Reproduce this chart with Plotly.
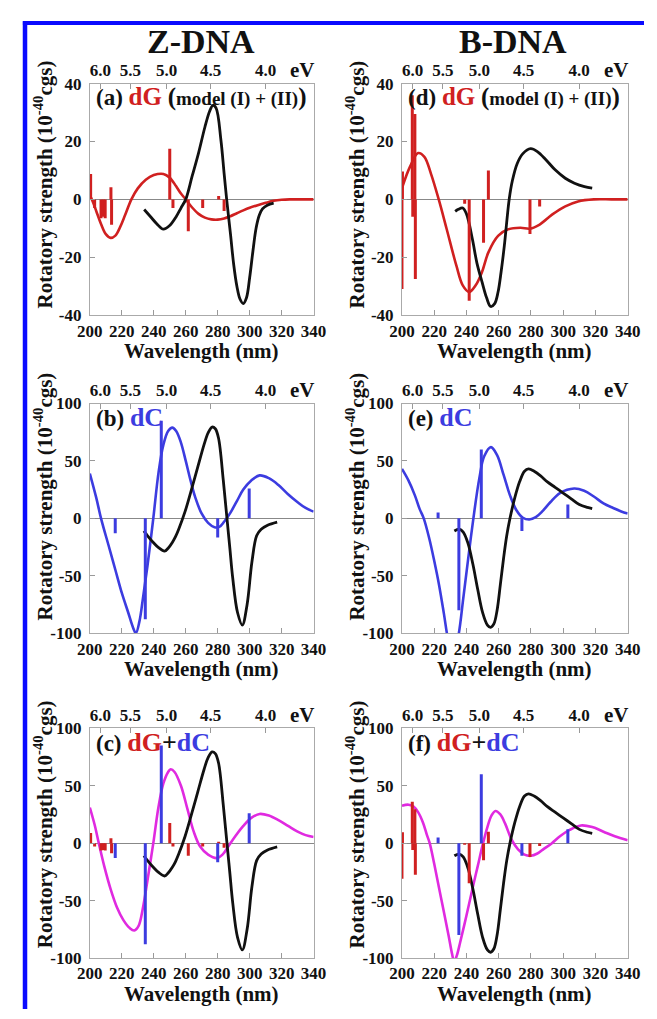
import plotly.graph_objects as go

W, H = 657, 1019

# ---------------- data ----------------
# experimental CD (black), Z-DNA, panel (a) scale
za_exp_wl = [234, 238, 242, 246, 250, 254, 257, 260, 264, 268, 272, 275, 277, 279, 282, 284, 285.6, 288, 290,
             292, 294, 296, 298, 300, 302, 304, 306, 308, 311, 315]
za_exp_cd = [-3.5, -6, -8.5, -10.3, -9, -6, -3, 0, 8, 16, 25, 30.5, 32.5, 31.5, 20.5, 9, 0, -12, -22.5,
             -30, -34.5, -36, -34, -27, -18, -10, -5.5, -3.3, -2, -1.3]
# experimental CD (black), Z-DNA, panels (b),(c)
z_exp_wl = [233.8, 236, 239.7, 243, 246.7, 249, 251.6, 253.6, 255.6, 259.6, 263.5, 267.5, 271.5, 274, 276.5,
            278.5, 280.5, 283.5, 285.8, 287.6, 289.4, 292.4, 295.4, 298.4, 301.4, 304.4, 307.2, 311.2, 317.2]
z_exp_cd = [-11, -15, -21, -25.5, -28.6, -26, -21, -16, -9.5, 6, 24.6, 44.5, 64.4, 74.5, 79.5,
            78, 70, 33, 0, -26, -52, -82, -93, -75, -38, -15, -9.5, -6, -3.3]
# experimental CD (black), B-DNA, panel (d)
bd_exp_wl = [233, 235, 237.7, 240, 243.7, 246.5, 249.7, 252.5, 255, 257.5, 259.6, 261.5, 263.5, 266.5, 268.5,
             271.5, 275, 279.8, 284, 289.4, 295, 301.3, 307, 313.2, 318]
bd_exp_cd = [-4.1, -3.4, -3, -5, -13.8, -22, -28.6, -34, -37, -36, -32, -25, -16, 0, 6.5,
             12.4, 15.8, 17.5, 16.5, 13.6, 10.2, 7.3, 5.6, 4.4, 3.9]
# experimental CD (black), B-DNA, panels (e),(f)
b_exp_wl = [232.5, 235.5, 238, 241, 244, 247, 250, 253, 255, 257, 259, 261, 263, 265, 267, 270, 273, 276,
            278.5, 282, 286, 290, 295, 300, 305, 310, 315, 318]
b_exp_cd = [-11, -9.5, -12, -22, -40, -62, -82, -93, -95, -92, -80, -58, -35, -15, 0, 18, 32, 41,
            43, 41, 37, 32, 27, 22, 17, 12, 9.5, 8.5]

# calculated spectra
z_dG_wl = [200, 202, 204, 207, 210, 213, 216, 219, 222, 226, 230, 235, 240, 246, 250, 254, 257, 260, 264,
           268, 272, 276, 280, 284, 288, 292, 296, 300, 305, 310, 315, 320, 325, 330, 335, 340]
z_dG_cd = [1.5, -1, -4, -8.5, -12, -13.3, -12.5, -9.5, -5.5, 0, 3.8, 6.8, 8.4, 8.8, 7.5, 4.5, 2, 0, -2.8,
           -5, -6.3, -6.9, -7, -6.6, -5.8, -4.8, -3.8, -2.9, -2, -1.2, -0.5, -0.15, 0, 0, 0, 0]
b_dG_wl = [200, 205, 210, 213.9, 217.9, 222.8, 227.8, 233.8, 237.7, 241.7, 245.7, 249.7, 253.6, 259.6, 265.5,
           273.4, 279.4, 285.4, 293.3, 301.3, 309.2, 319, 330, 340]
b_dG_cd = [3.9, 11.3, 16, 14.7, 9, 0, -10.4, -23, -29.7, -32, -29.7, -25, -18.3, -12.6, -10.4,
           -9.8, -10.1, -8.7, -5.2, -2.4, -0.7, 0, 0, 0]
z_dC_wl = [200, 204, 207, 212, 216, 220, 224, 227, 228.8, 231, 233, 236, 239.7, 243, 246, 249, 251.6, 254, 257,
           260, 263, 266, 270, 274, 278, 281, 284, 288, 292, 296, 301, 306.2, 312, 318, 324, 330, 335, 340]
z_dC_cd = [39, 18, 0, -25, -45, -65, -82, -95, -100, -90, -72, -42, 0, 40, 64, 76, 79, 76, 66,
           50, 33, 18, 4, -4, -7.8, -7.5, -3, 5, 15, 25, 33, 37.4, 35, 29, 21, 14, 9, 5.8]
b_dC_wl = [200, 204, 208, 211, 213.5, 217, 220, 223, 226, 228.5, 231, 233, 235.3, 238, 241, 244.3, 248, 251,
           255.2, 259, 263, 267, 271, 275, 279, 283, 287, 292, 298, 306.8, 313, 319, 325, 331, 336, 340]
b_dC_cd = [43, 33, 20, 8, 0, -18, -37, -58, -83, -105, -118, -115, -100, -70, -36, 0, 35, 54,
           62, 55, 38, 20, 7, 0.5, -1, 1, 6, 14, 22, 26, 24, 19, 13, 9, 6, 4.3]
z_sum_wl = [200, 203, 205.6, 209, 213, 217, 221, 225, 227.8, 230.5, 233, 236, 239.7, 243, 246, 249, 250.6, 253,
            257, 261, 265, 269, 274, 279.5, 283, 287, 291, 296, 301, 306.2, 312, 318, 324, 330, 335, 340]
z_sum_cd = [31, 16, 0, -20, -40, -56, -67, -74, -76, -72, -58, -33, 0, 32, 52, 62, 64.4, 62,
            50, 30, 10, -3, -10, -13, -10, -2, 6, 15, 22, 25.4, 24, 20, 15, 10, 7, 5.4]
b_sum_wl = [200, 204, 207, 210, 213, 215.5, 217.2, 220, 223, 226, 229, 231, 232.4, 234, 236, 240, 244, 247,
            250.3, 253, 255.5, 258, 261, 264, 268, 272, 276, 280, 284, 288, 293, 298, 304, 311, 318, 325, 332, 340]
b_sum_cd = [32.5, 33.5, 32, 27, 18, 7, 0, -18, -39, -60, -81, -96, -103, -98, -87, -63, -38, -20,
            0, 14, 24, 28, 25, 17, 3, -5.5, -10, -11, -9, -5, 0, 6, 11.5, 15.4, 14, 10, 6, 2.6]

# rotatory strengths (sticks)
z_dG_st_wl = [200.5, 203, 207, 208.4, 209.6, 213.2, 213.6, 250, 252, 261.6, 270.6, 280.6, 284]
z_dG_st_R = [8.8, -3, -6.5, -6, -6.5, 4.2, -8.8, 17.5, -3, -11, -3, 1.2, -4]
b_dG_st_wl = [200.0, 200.3, 206.4, 206.7, 208.0, 208.3, 238.9, 241.7, 250.6, 253.6, 279.4, 285.4]
b_dG_st_R = [-31, 9.6, 36, -6, 29.5, -27.5, -1.5, -35, -15, 10, -12, -2.5]
z_dC_st_wl = [215.9, 234.7, 244.7, 280.0, 299.7]
z_dC_st_R = [-13, -88, 85, -16.6, 26]
b_dC_st_wl = [222.4, 235.3, 249.2, 274.4, 302.9]
b_dC_st_R = [5, -80, 60, -11, 12]

ev_ticks = [6.0, 5.5, 5.0, 4.5, 4.0]
ev_text = ["6.0", "5.5", "5.0", "4.5", "4.0"]
x_ticks = [200, 220, 240, 260, 280, 300, 320, 340]

RED = "#d02020"
BLUE = "#3c3ce0"
MAG = "#e02ae0"
BLK = "#111111"
FONT = "Liberation Serif"


def sticks(wl, r):
    xs, ys = [], []
    for w, v in zip(wl, r):
        xs += [w, w, None]
        ys += [0, v, None]
    return xs, ys


fig = go.Figure()

# key, axis index, x px range, y px range, y range, y ticks, y-title vertical shift
panels = [
    ("a", 1, (80, 313), (76, 312), (-40, 40), [-40, -20, 0, 20, 40], -15),
    ("d", 2, (405, 640), (76, 312), (-40, 40), [-40, -20, 0, 20, 40], -15),
    ("b", 3, (80, 313), (402, 636), (-100, 100), [-100, -50, 0, 50, 100], -22),
    ("e", 4, (405, 640), (402, 636), (-100, 100), [-100, -50, 0, 50, 100], -22),
    ("c", 5, (80, 313), (733, 967), (-100, 100), [-100, -50, 0, 50, 100], -19),
    ("f", 6, (405, 640), (733, 967), (-100, 100), [-100, -50, 0, 50, 100], -19),
]

content = {
    "a": dict(curves=[(z_dG_wl, z_dG_cd, RED)], exp=(za_exp_wl, za_exp_cd),
              sticks=[(z_dG_st_wl, z_dG_st_R, RED)]),
    "d": dict(curves=[(b_dG_wl, b_dG_cd, RED)], exp=(bd_exp_wl, bd_exp_cd),
              sticks=[(b_dG_st_wl, b_dG_st_R, RED)]),
    "b": dict(curves=[(z_dC_wl, z_dC_cd, BLUE)], exp=(z_exp_wl, z_exp_cd),
              sticks=[(z_dC_st_wl, z_dC_st_R, BLUE)]),
    "e": dict(curves=[(b_dC_wl, b_dC_cd, BLUE)], exp=(b_exp_wl, b_exp_cd),
              sticks=[(b_dC_st_wl, b_dC_st_R, BLUE)]),
    "c": dict(curves=[(z_sum_wl, z_sum_cd, MAG)], exp=(z_exp_wl, z_exp_cd),
              sticks=[(z_dG_st_wl, z_dG_st_R, RED), (z_dC_st_wl, z_dC_st_R, BLUE)]),
    "f": dict(curves=[(b_sum_wl, b_sum_cd, MAG)], exp=(b_exp_wl, b_exp_cd),
              sticks=[(b_dG_st_wl, b_dG_st_R, RED), (b_dC_st_wl, b_dC_st_R, BLUE)]),
}

ann = []
layout_axes = {}
for key, n, (x0, x1), (y0, y1), yr, ytv, yshift in panels:
    xa = "x" if n == 1 else f"x{n}"
    ya = "y" if n == 1 else f"y{n}"
    xt = f"x{n + 6}"
    c = content[key]
    for wl, cd, col in c["curves"]:
        fig.add_trace(go.Scatter(x=wl, y=cd, mode="lines", line=dict(color=col, width=2.6, shape="spline"),
                                 xaxis=xa, yaxis=ya, showlegend=False))
    ew, ec = c["exp"]
    fig.add_trace(go.Scatter(x=ew, y=ec, mode="lines", line=dict(color=BLK, width=2.8, shape="spline"),
                             xaxis=xa, yaxis=ya, showlegend=False))
    for wl, r, col in c["sticks"]:
        sx, sy = sticks(wl, r)
        fig.add_trace(go.Scatter(x=sx, y=sy, mode="lines", line=dict(color=col, width=3),
                                 xaxis=xa, yaxis=ya, showlegend=False, connectgaps=False))
    # placeholder trace so the top (eV) axis is drawn
    fig.add_trace(go.Scatter(x=[None], y=[None], xaxis=xt, yaxis=ya, showlegend=False, hoverinfo="skip"))

    xdom = [x0 / W, x1 / W]
    ydom = [1 - y1 / H, 1 - y0 / H]
    xname = "xaxis" if n == 1 else f"xaxis{n}"
    yname = "yaxis" if n == 1 else f"yaxis{n}"
    layout_axes[xname] = dict(domain=xdom, range=[200, 340], anchor=ya, tickvals=x_ticks,
                              ticks="inside", ticklen=5, tickcolor="#999", showline=True, linecolor="#aaa",
                              linewidth=1, mirror=True, showgrid=False, zeroline=False,
                              tickfont=dict(family=FONT, size=17, color="#111", weight="bold"))
    layout_axes[yname] = dict(domain=ydom, range=list(yr), anchor=xa, tickvals=ytv,
                              ticktext=[str(v) for v in ytv], ticks="inside", ticklen=5, tickcolor="#999",
                              showline=True, linecolor="#aaa", linewidth=1, mirror=True, showgrid=False,
                              zeroline=True, zerolinecolor="#888", zerolinewidth=1.4, ticklabelstandoff=4,
                              tickfont=dict(family=FONT, size=17, color="#111", weight="bold"))
    layout_axes[f"xaxis{n + 6}"] = dict(overlaying=xa, side="top", anchor=ya, range=[200, 340],
                                        tickvals=[1239.84 / e for e in ev_ticks], ticktext=ev_text,
                                        ticks="inside", ticklen=5, tickcolor="#999", showline=False,
                                        showgrid=False, zeroline=False, ticklabelstandoff=3,
                                        tickfont=dict(family=FONT, size=17, color="#111", weight="bold"))

    # eV label
    ann.append(dict(x=(x1 - 12) / W, y=1 - (y0 - 14) / H, xref="paper", yref="paper", text="<b>eV</b>",
                    showarrow=False, xanchor="center", yanchor="middle",
                    font=dict(family=FONT, size=21, color="#111")))
    # x title
    ann.append(dict(x=(x0 + x1) / 2 / W, y=1 - (y1 + 37) / H, xref="paper", yref="paper",
                    text="<b>Wavelength (nm)</b>", showarrow=False, xanchor="center", yanchor="middle",
                    font=dict(family=FONT, size=21, color="#111")))
    # y title
    ann.append(dict(x=(x0 - 48) / W, y=1 - ((y0 + y1) / 2 + yshift) / H, xref="paper", yref="paper",
                    text="<b>Rotatory strength (10<sup>-40</sup>cgs)</b>", showarrow=False, textangle=-90,
                    xanchor="center", yanchor="middle", font=dict(family=FONT, size=21, color="#111")))

    # panel label
    if key in ("a", "d"):
        txt = (f"<b>({key}) <span style='color:{RED};font-size:25px'>dG</span> "
               f"<span style='font-size:25px'>(</span><span style='font-size:19px'>model (I) + (II)</span>"
               f"<span style='font-size:25px'>)</span></b>")
    elif key in ("b", "e"):
        txt = f"<b>({key}) <span style='color:{BLUE};font-size:26px'>dC</span></b>"
    else:
        txt = (f"<b>({key}) <span style='color:{RED};font-size:26px'>dG</span>"
               f"<span style='font-size:26px'>+</span>"
               f"<span style='color:{BLUE};font-size:26px'>dC</span></b>")
    ann.append(dict(x=(x0 + 4) / W, y=1 - (y0 + 14) / H, xref="paper", yref="paper", text=txt,
                    showarrow=False, xanchor="left", yanchor="middle",
                    font=dict(family=FONT, size=23, color="#111")))

ann.append(dict(x=196 / W, y=1 - 33 / H, xref="paper", yref="paper", text="<b>Z-DNA</b>", showarrow=False,
                xanchor="center", yanchor="middle", font=dict(family=FONT, size=34, color="#111")))
ann.append(dict(x=521 / W, y=1 - 33 / H, xref="paper", yref="paper", text="<b>B-DNA</b>", showarrow=False,
                xanchor="center", yanchor="middle", font=dict(family=FONT, size=34, color="#111")))

shapes = [
    dict(type="line", xref="paper", yref="paper", x0=12.5 / W, x1=12.5 / W, y0=0, y1=1 - 12.5 / H,
         line=dict(color="#0a0aff", width=4.5)),
    dict(type="line", xref="paper", yref="paper", x0=10.3 / W, x1=1, y0=1 - 14.3 / H, y1=1 - 14.3 / H,
         line=dict(color="#0a0aff", width=4)),
]

fig.update_layout(width=W, height=H, margin=dict(l=0, r=0, t=0, b=0), plot_bgcolor="white",
                  paper_bgcolor="white", annotations=ann, shapes=shapes, showlegend=False, **layout_axes)

fig.write_html("out.html")
